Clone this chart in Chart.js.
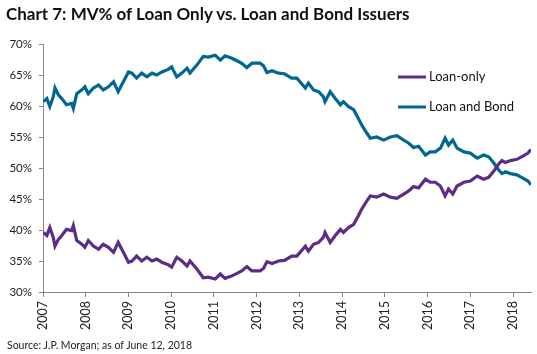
<!DOCTYPE html>
<html>
<head>
<meta charset="utf-8">
<script src="https://cdn.jsdelivr.net/npm/chart.js@4.4.1/dist/chart.umd.min.js"></script>
<style>
  body { margin: 0; background: #fff; }
  #wrap { position: relative; width: 537px; height: 354px; }
  #title { position: absolute; left: 6px; top: 3px; font: bold 17px Lato, sans-serif; color: #111; white-space: nowrap; }
  #source { position: absolute; left: 7px; top: 339px; font: 10.5px Lato, sans-serif; color: #222; white-space: nowrap; }
</style>
</head>
<body>
<div id="wrap">
  <canvas id="chart" width="537" height="354"></canvas>
  <div id="title">Chart 7: MV% of Loan Only vs. Loan and Bond Issuers</div>
  <div id="source">Source: J.P. Morgan; as of June 12, 2018</div>
</div>
<script>
// dates as decimal years, values in %
const years = [
  2007.01, 2007.09, 2007.16, 2007.24, 2007.28, 2007.36, 2007.44, 2007.55, 2007.67, 2007.71,
  2007.79, 2007.91, 2007.98, 2008.06, 2008.18, 2008.30, 2008.41, 2008.53, 2008.65, 2008.76,
  2008.88, 2009.00, 2009.08, 2009.19, 2009.31, 2009.43, 2009.55, 2009.66, 2009.78, 2009.93,
  2010.01, 2010.13, 2010.25, 2010.37, 2010.44, 2010.60, 2010.75, 2010.87, 2011.03, 2011.15,
  2011.26, 2011.42, 2011.54, 2011.65, 2011.77, 2011.89, 2012.08, 2012.16, 2012.24, 2012.36,
  2012.51, 2012.65, 2012.82, 2012.94, 2013.14, 2013.21, 2013.33, 2013.45, 2013.56, 2013.60,
  2013.72, 2013.84, 2013.96, 2014.03, 2014.15, 2014.27, 2014.38, 2014.46, 2014.58, 2014.66,
  2014.81, 2014.97, 2015.13, 2015.28, 2015.44, 2015.56, 2015.67, 2015.79, 2015.95, 2016.06,
  2016.18, 2016.30, 2016.41, 2016.49, 2016.59, 2016.69, 2016.85, 2017.00, 2017.16, 2017.31,
  2017.43, 2017.55, 2017.66, 2017.74, 2017.82, 2017.94, 2018.09, 2018.25, 2018.35, 2018.42
];

const loanOnly = [
  39.6, 39.1, 40.4, 38.8, 37.4, 38.5, 39.1, 40.1, 39.9, 40.7,
  38.3, 37.7, 37.2, 38.3, 37.4, 36.9, 37.7, 37.2, 36.4, 38.0,
  36.4, 34.8, 35.0, 35.8, 35.0, 35.6, 35.0, 35.3, 34.8, 34.4,
  34.0, 35.6, 35.0, 34.2, 35.0, 33.7, 32.3, 32.4, 32.1, 32.9,
  32.2, 32.6, 33.0, 33.4, 34.1, 33.4, 33.4, 33.8, 34.9, 34.6,
  35.0, 35.1, 35.8, 35.8, 37.4, 36.6, 37.7, 38.0, 38.8, 39.6,
  38.0, 39.1, 40.1, 39.6, 40.4, 40.9, 42.3, 43.4, 44.7, 45.5,
  45.3, 45.8, 45.3, 45.1, 45.8, 46.3, 47.0, 46.8, 48.2, 47.7,
  47.7, 47.1, 45.5, 46.6, 45.8, 47.1, 47.7, 47.9, 48.7, 48.2,
  48.5, 49.5, 50.6, 51.2, 50.9, 51.2, 51.4, 52.0, 52.4, 53.0
];

const loanAndBond = [
  60.7, 61.2, 59.9, 61.5, 62.9, 61.8, 61.2, 60.2, 60.4, 59.6,
  62.0, 62.6, 63.1, 62.0, 62.9, 63.4, 62.6, 63.1, 63.9, 62.3,
  63.9, 65.5, 65.3, 64.5, 65.3, 64.7, 65.3, 65.0, 65.5, 65.9,
  66.3, 64.7, 65.3, 66.1, 65.3, 66.6, 68.0, 67.9, 68.2, 67.4,
  68.1, 67.7, 67.3, 66.9, 66.2, 66.9, 66.9, 66.5, 65.4, 65.7,
  65.3, 65.2, 64.5, 64.5, 62.9, 63.7, 62.6, 62.3, 61.5, 60.7,
  62.3, 61.2, 60.2, 60.7, 59.9, 59.4, 58.0, 56.9, 55.6, 54.8,
  55.0, 54.5, 55.0, 55.2, 54.5, 54.0, 53.3, 53.5, 52.1, 52.6,
  52.6, 53.2, 54.8, 53.7, 54.5, 53.2, 52.6, 52.4, 51.6, 52.1,
  51.8, 50.8, 49.7, 49.1, 49.4, 49.1, 48.9, 48.3, 47.9, 47.3
];

const yearTicks = [2007, 2008, 2009, 2010, 2011, 2012, 2013, 2014, 2015, 2016, 2017, 2018];
const pctTicks = [30, 35, 40, 45, 50, 55, 60, 65, 70];

const toPoints = (vals) => vals.map((v, i) => ({ x: years[i], y: v }));

// legend drawn inside the plot, to the right
const sideLegend = {
  id: 'sideLegend',
  afterDraw(chart) {
    const ctx = chart.ctx;
    ctx.save();
    ctx.font = '13px Lato, sans-serif';
    ctx.textBaseline = 'middle';
    chart.data.datasets.forEach((ds, i) => {
      const y = 77 + i * 30;
      ctx.strokeStyle = ds.borderColor;
      ctx.lineWidth = 3;
      ctx.beginPath();
      ctx.moveTo(398, y);
      ctx.lineTo(426, y);
      ctx.stroke();
      ctx.fillStyle = '#111';
      ctx.fillText(ds.label, 429, y);
    });
    ctx.restore();
  }
};

Chart.defaults.font.family = 'Lato, sans-serif';
Chart.defaults.font.size = 11.5;
Chart.defaults.color = '#222';

new Chart(document.getElementById('chart').getContext('2d'), {
  type: 'line',
  data: {
    datasets: [
      {
        label: 'Loan-only',
        data: toPoints(loanOnly),
        borderColor: '#5C2D86',
        borderWidth: 3.2,
        pointRadius: 0,
        tension: 0,
      },
      {
        label: 'Loan and Bond',
        data: toPoints(loanAndBond),
        borderColor: '#00678F',
        borderWidth: 3.2,
        pointRadius: 0,
        tension: 0,
      },
    ],
  },
  options: {
    responsive: false,
    animation: false,
    devicePixelRatio: 1,
    layout: { padding: { top: 44, right: 6, left: 0, bottom: 0 } },
    plugins: {
      legend: { display: false },
      tooltip: { enabled: false },
    },
    scales: {
      x: {
        type: 'linear',
        min: 2007,
        max: 2018.42,
        afterBuildTicks: (scale) => { scale.ticks = yearTicks.map((v) => ({ value: v })); },
        afterFit: (scale) => { scale.height = 62; },
        ticks: {
          minRotation: 90,
          maxRotation: 90,
          padding: 4,
          font: { size: 12.5 },
          callback: (v) => String(v),
        },
        grid: { drawOnChartArea: false, drawTicks: true, tickLength: 5, color: '#888' },
        border: { display: true, color: '#888' },
      },
      y: {
        min: 30,
        max: 70,
        afterBuildTicks: (scale) => { scale.ticks = pctTicks.map((v) => ({ value: v })); },
        afterFit: (scale) => { scale.width = 43; },
        ticks: {
          padding: 7,
          callback: (v) => v + '%',
        },
        grid: { drawOnChartArea: false, drawTicks: true, tickLength: 4, color: '#888' },
        border: { display: true, color: '#888' },
      },
    },
  },
  plugins: [sideLegend],
});
</script>
</body>
</html>
